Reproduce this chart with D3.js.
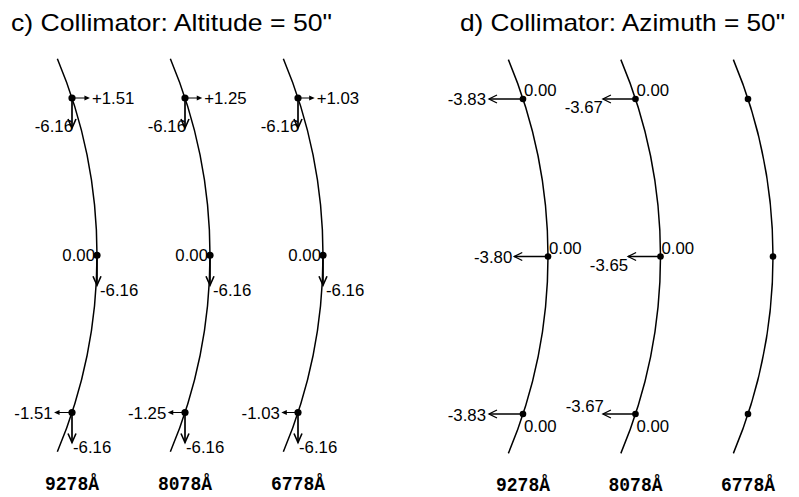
<!DOCTYPE html>
<html>
<head>
<meta charset="utf-8">
<script src="https://cdn.jsdelivr.net/npm/d3@7"></script>
<style>
  html, body { margin: 0; padding: 0; background: #fff; }
  svg { display: block; }
  text { font-family: "Liberation Sans", Arial, Helvetica, sans-serif; fill: #000; }
</style>
</head>
<body>
<svg id="chart" width="799" height="497"></svg>
<script>
// Image shifts (arcsec) at three points along the slit for each grating wavelength.
const wavelengths = ["9278Å", "8078Å", "6778Å"];
const slitPositions = [1, 0, -1];            // top, middle, bottom of the slit

// c) collimator tilted in altitude by 50"
const altitudeShiftX = [
  [1.51, 0.00, -1.51],
  [1.25, 0.00, -1.25],
  [1.03, 0.00, -1.03]
];
const altitudeShiftY = [
  [-6.16, -6.16, -6.16],
  [-6.16, -6.16, -6.16],
  [-6.16, -6.16, -6.16]
];

// d) collimator tilted in azimuth by 50" (no shifts listed for 6778Å)
const azimuthShiftX = [
  [-3.83, -3.80, -3.83],
  [-3.67, -3.65, -3.67],
  null
];
const azimuthShiftY = [
  [0.00, 0.00, 0.00],
  [0.00, 0.00, 0.00],
  null
];

const titles = ["c) Collimator: Altitude = 50\"", "d) Collimator: Azimuth = 50\""];

const svg = d3.select("#chart");
const loc = d3.formatLocale({ decimal: ".", thousands: ",", grouping: [3], currency: ["", ""], minus: "-" });
const fmt = loc.format(".2f");
const fmtSigned = loc.format("+.2f");
const labelX = v => (v === 0 ? fmt(0) : fmtSigned(v));

const BOW = 25;          // sideways bow of the slit image between middle and ends
const EXTENT = 1.25;     // slit image drawn beyond the outer sample points

function arcGeometry(yScale) {
  const cy = yScale(0);
  const half = Math.abs(yScale(1) - cy);
  const R = (half * half + BOW * BOW) / (2 * BOW);
  const offset = y => R - Math.sqrt(R * R - (y - cy) * (y - cy));
  return { cy, R, offset, endHalf: Math.abs(yScale(EXTENT) - cy) };
}

function drawSlit(g, xMid, geo) {
  const theta = Math.asin(geo.endHalf / geo.R);
  const p = d3.path();
  p.arc(xMid - geo.R, geo.cy, geo.R, -theta, theta, false);
  g.append("path").attr("d", p.toString())
    .attr("fill", "none").attr("stroke", "#000").attr("stroke-width", 1.5);
}

function openHead(g, x, y, dir, len, half, sw) {
  const [dx, dy] = dir, nx = -dy, ny = dx;
  const bx = x - dx * len, by = y - dy * len;
  g.append("path")
    .attr("d", `M${bx + nx * half},${by + ny * half}L${x},${y}L${bx - nx * half},${by - ny * half}`)
    .attr("fill", "none").attr("stroke", "#000").attr("stroke-width", sw)
    .attr("stroke-linejoin", "miter");
}

function filledHead(g, x, y, dir, len, half) {
  const [dx, dy] = dir, nx = -dy, ny = dx;
  const bx = x - dx * len, by = y - dy * len;
  g.append("path")
    .attr("d", `M${bx + nx * half},${by + ny * half}L${x},${y}L${bx - nx * half},${by - ny * half}Z`)
    .attr("fill", "#000");
}

function label(g, x, y, txt, anchor) {
  g.append("text").attr("x", x).attr("y", y)
    .attr("text-anchor", anchor).attr("font-size", 16.8).text(txt);
}

function wavelengthLabel(g, x, y, txt) {
  g.append("text").attr("x", x).attr("y", y)
    .attr("text-anchor", "middle")
    .style("font-family", "'Liberation Mono', 'Courier New', monospace")
    .attr("font-weight", "bold").attr("font-size", 21)
    .attr("textLength", 54).attr("lengthAdjust", "spacingAndGlyphs")
    .text(txt);
}

function title(g, x, txt, width) {
  g.append("text").attr("x", x).attr("y", 31).attr("font-size", 24)
    .attr("textLength", width).attr("lengthAdjust", "spacingAndGlyphs").text(txt);
}

// ---------- panel c ----------
(function () {
  const g = svg.append("g");
  const x = d3.scalePoint().domain(wavelengths).range([97, 323]);
  const y = d3.scaleLinear().domain([-1, 1]).range([412.5, 98]);
  const len = d3.scaleLinear().domain([0, 6.16]).range([14, 30]);
  const geo = arcGeometry(y);

  wavelengths.forEach((w, i) => {
    const xm = x(w);
    drawSlit(g, xm, geo);
    slitPositions.forEach((s, j) => {
      const py = y(s), px = xm - geo.offset(py);
      const vx = altitudeShiftX[i][j], vy = altitudeShiftY[i][j];

      // shift along the slit (downwards)
      const tipY = py + len(Math.abs(vy));
      g.append("line").attr("x1", px).attr("y1", py).attr("x2", px).attr("y2", tipY)
        .attr("stroke", "#000").attr("stroke-width", 1.7);
      openHead(g, px, tipY, [0, 1], 9, 4, 1.6);

      // shift across the slit
      if (vx !== 0) {
        const dir = vx > 0 ? 1 : -1;
        const tipX = px + dir * len(Math.abs(vx));
        g.append("line").attr("x1", px).attr("y1", py).attr("x2", tipX - dir * 3).attr("y2", py)
          .attr("stroke", "#000").attr("stroke-width", 1);
        filledHead(g, tipX, py, [dir, 0], 5.5, 2.6);
        if (dir > 0) label(g, tipX + 2, py + 6, labelX(vx), "start");
        else label(g, tipX - 1.5, py + 6, labelX(vx), "end");
      } else {
        label(g, px - 2, py + 6, labelX(vx), "end");
      }

      if (j === 0) label(g, px + 1, tipY + 4, fmt(vy), "end");
      else if (j === 1) label(g, px + 3, tipY + 11, fmt(vy), "start");
      else label(g, px + 1, tipY + 10, fmt(vy), "start");

      g.append("circle").attr("cx", px).attr("cy", py).attr("r", 3.6).attr("fill", "#000");
    });

    wavelengthLabel(g, xm - BOW, 490, w);
  });

  title(g, 11, titles[0], 321);
})();

// ---------- panel d ----------
(function () {
  const g = svg.append("g");
  const x = d3.scalePoint().domain(wavelengths).range([548, 773]);
  const y = d3.scaleLinear().domain([-1, 1]).range([414, 99]);
  const len = d3.scaleLinear().domain([0, 3.83]).range([0, 34]);
  const geo = arcGeometry(y);

  // label offsets for the across-slit values, per column and slit position
  const xLabelDy = [[6, 6, 7], [14, 14, -2]];
  const xLabelPad = [[3, 2, 3], [0, 0, -1]];
  const yLabelDy = [-3, -3, 18];

  wavelengths.forEach((w, i) => {
    const xm = x(w);
    drawSlit(g, xm, geo);
    slitPositions.forEach((s, j) => {
      const py = y(s), px = xm - geo.offset(py);
      if (azimuthShiftX[i]) {
        const vx = azimuthShiftX[i][j], vy = azimuthShiftY[i][j];
        const tipX = px - len(Math.abs(vx));
        g.append("line").attr("x1", px).attr("y1", py).attr("x2", tipX).attr("y2", py)
          .attr("stroke", "#000").attr("stroke-width", 1.3);
        openHead(g, tipX, py, [-1, 0], 8, 4, 1.3);
        label(g, tipX - xLabelPad[i][j], py + xLabelDy[i][j], labelX(vx), "end");
        label(g, px + 1, py + yLabelDy[j], fmt(vy), "start");
      }
      g.append("circle").attr("cx", px).attr("cy", py).attr("r", 3.3).attr("fill", "#000");
    });

    wavelengthLabel(g, xm - BOW, 491, w);
  });

  title(g, 460, titles[1], 325);
})();
</script>
</body>
</html>
